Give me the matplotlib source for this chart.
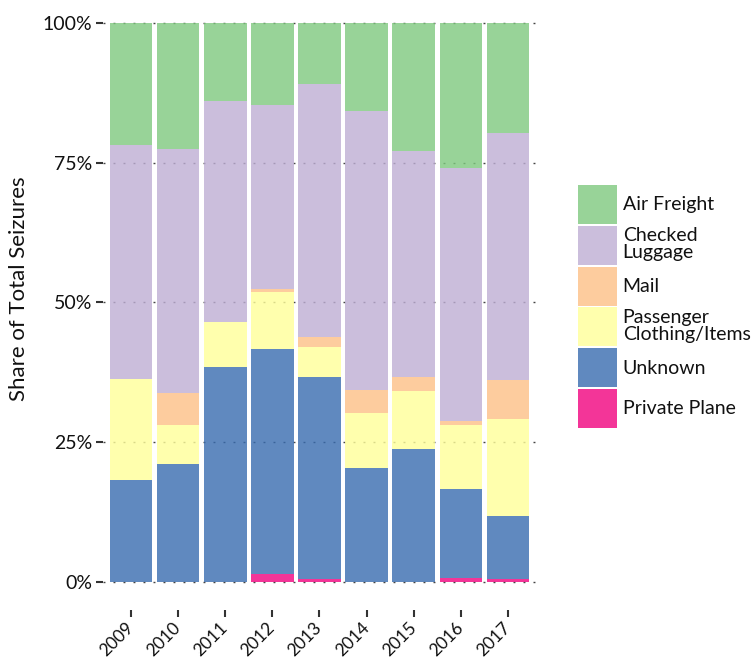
import matplotlib
matplotlib.use("Agg")
import matplotlib.pyplot as plt
from matplotlib.patches import Patch
import numpy as np

years = ["2009", "2010", "2011", "2012", "2013", "2014", "2015", "2016", "2017"]

# shares in percent, stacked bottom -> top
private_plane = [0.0, 0.0, 0.0, 1.3, 0.5, 0.0, 0.0, 0.7, 0.4]
unknown = [18.2, 21.1, 38.4, 40.4, 36.2, 20.4, 23.8, 15.9, 11.4]
passenger = [18.0, 6.9, 8.1, 10.2, 5.3, 9.8, 10.3, 11.4, 17.3]
mail = [0.0, 5.8, 0.0, 0.5, 1.8, 4.1, 2.5, 0.8, 7.0]
checked = [42.0, 43.6, 39.5, 33.0, 45.3, 49.9, 40.5, 45.3, 44.2]
air_freight = [21.8, 22.6, 14.0, 14.6, 10.9, 15.8, 22.9, 25.9, 19.7]

series_names = ["Private Plane", "Unknown", "Passenger\nClothing/Items", "Mail",
                "Checked\nLuggage", "Air Freight"]
series_vals = [private_plane, unknown, passenger, mail, checked, air_freight]
colors = ["#f0027f", "#386cb0", "#ffff99", "#fdc086", "#beaed4", "#7fc97f"]

yticks = [0, 25, 50, 75, 100]
ytick_labels = ["0%", "25%", "50%", "75%", "100%"]

plt.rcParams["font.family"] = ["Lato", "DejaVu Sans"]

fig = plt.figure(figsize=(7.53, 6.61), dpi=100)
ax = fig.add_axes([0.1368, 0.0778, 0.7118 - 0.1368, 0.9694 - 0.0778])

x = np.arange(1, len(years) + 1)
vals = np.array(series_vals, dtype=float)
totals = vals.sum(axis=0)
shares = vals / totals * 100
bottom = np.zeros(len(years))
for name, v, c in zip(series_names, shares, colors):
    ax.bar(x, v, bottom=bottom, width=0.9, color=c, alpha=0.8, linewidth=0,
           zorder=2, label=name)
    bottom += v

ax.set_xlim(0.4, 9.6)
ax.set_ylim(-5, 100.5)
ax.set_yticks(yticks)
ax.set_yticklabels(ytick_labels)
ax.set_xticks(x)
ax.set_xticklabels(years, rotation=45, ha="right", va="center", rotation_mode="anchor",
                   fontsize=12.5)

for yv in yticks:
    ax.axhline(yv, color="#444444", linewidth=1.0, linestyle=(0, (1.4, 5.8)), zorder=1)

for s in ax.spines.values():
    s.set_visible(False)
ax.tick_params(axis="both", colors="#333333", labelcolor="#111111", labelsize=14,
               length=5, width=1.5)
ax.tick_params(axis="x", pad=6, labelsize=12.5)
ax.tick_params(axis="y", pad=3)

ax.set_ylabel("Share of Total Seizures", fontsize=16, color="#111111")
ax.yaxis.set_label_coords(-0.172, 0.544)

handles = [Patch(facecolor=c, alpha=0.8, linewidth=0) for c in colors][::-1]
labels = series_names[::-1]
leg = fig.legend(handles, labels, loc="center left", bbox_to_anchor=(0.7676, 0.5363),
                 frameon=False, fontsize=14, handlelength=2.0, handleheight=2.7,
                 labelspacing=0.1, handletextpad=0.3, borderaxespad=0, borderpad=0)
for t in leg.get_texts():
    t.set_linespacing(1.0)
    t.set_color("#111111")

fig.savefig("out.png", dpi=100)
